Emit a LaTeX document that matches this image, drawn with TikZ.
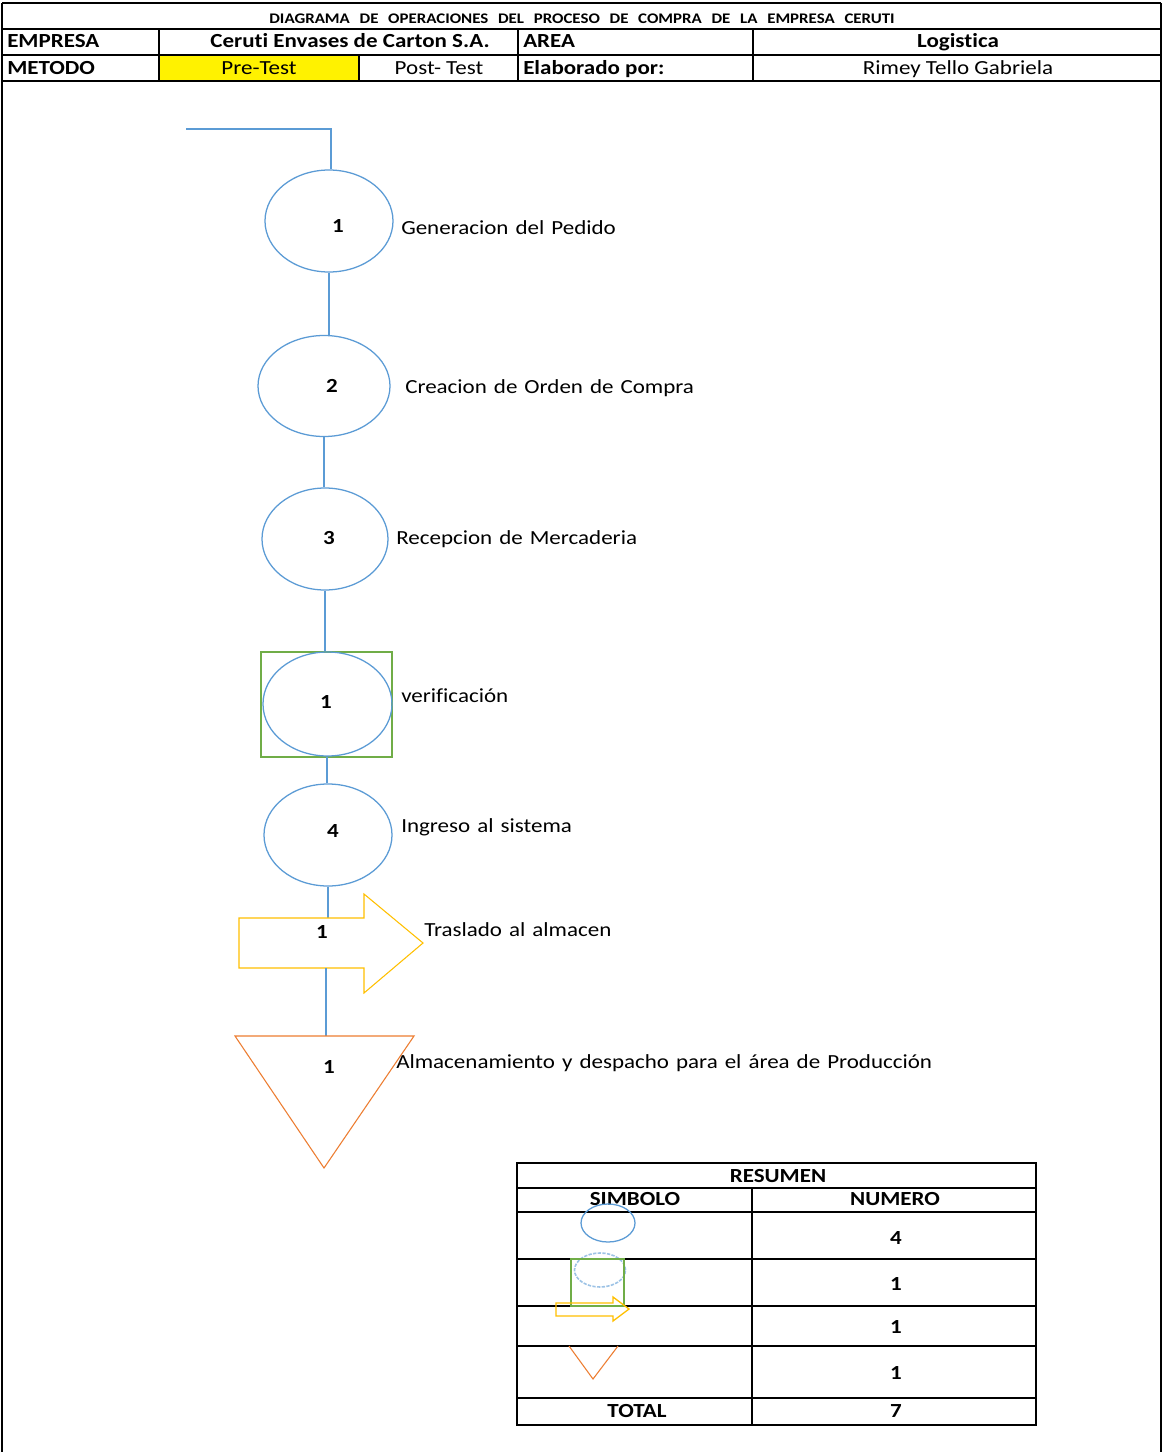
\documentclass[tikz,border=0pt]{standalone}
\usepackage{fontspec}
\setmainfont{Carlito}[FakeStretch=1.15,Ligatures=NoCommon]
\newfontfamily\labelfont{Carlito}[FakeStretch=1.15,WordSpace=1.35,Ligatures=NoCommon]
\usetikzlibrary{shapes.geometric}
\definecolor{opblue}{HTML}{5B9BD5}
\definecolor{oplight}{HTML}{9DC3E6}
\definecolor{opgreen}{HTML}{70AD47}
\definecolor{opyellow}{HTML}{FFC000}
\definecolor{oporange}{HTML}{ED7D31}
\begin{document}
\begin{tikzpicture}[x=0.75pt,y=-0.75pt,
  tbl/.style={draw=black,line width=1.8pt},
  sumline/.style={draw=black,line width=1.5pt},
  oper/.style 2 args={ellipse,draw=opblue,line width=0.95pt,inner sep=0pt,
      minimum width=#1*0.75pt,minimum height=#2*0.75pt},
  link/.style={draw=opblue,line width=1.05pt},
  hb/.style={inner sep=0pt,font=\bfseries\fontsize{15}{18}\selectfont},
  hr/.style={inner sep=0pt,font=\fontsize{15}{18}\selectfont},
  lbl/.style={anchor=base west,inner sep=0pt,font=\labelfont\fontsize{15}{18}\selectfont},
  num/.style={anchor=base,inner sep=0pt,font=\bfseries\fontsize{15}{18}\selectfont},
  sb/.style={anchor=base,inner sep=0pt,font=\bfseries\fontsize{15}{18}\selectfont}]
\useasboundingbox (0,0) rectangle (1163,1452);
\fill[white] (0,0) rectangle (1163,1452);

% ---------- header ----------
\fill[yellow] (159,55) rectangle (359,81);
\draw[tbl] (2,3) -- (1161,3);
\draw[tbl] (2,3) -- (2,1452);
\draw[tbl] (1161,3) -- (1161,1452);
\draw[tbl] (2,29) -- (1161,29);
\draw[tbl] (2,55) -- (1161,55);
\draw[tbl] (2,81) -- (1161,81);
\draw[tbl] (159,29) -- (159,81);
\draw[tbl] (518,29) -- (518,81);
\draw[tbl] (753,29) -- (753,81);
\draw[tbl] (359,55) -- (359,81);

\node[anchor=base,inner sep=0pt,font=\bfseries\fontsize{11}{13}\selectfont] (title) at (582,24)
  {\spaceskip=7.3pt\relax DIAGRAMA DE OPERACIONES DEL PROCESO DE COMPRA DE LA EMPRESA CERUTI};
\node[hb,anchor=base west] (hemp) at (7,48) {EMPRESA};
\node[hb,anchor=base] (hcer) at (350,48) {Ceruti Envases de Carton S.A.};
\node[hb,anchor=base west] (harea) at (523,48) {AREA};
\node[hb,anchor=base] (hlog) at (958,48) {Logistica};
\node[hb,anchor=base west] (hmet) at (7,75) {METODO};
\node[hr,anchor=base] (hpre) at (259,75) {Pre-Test};
\node[hr,anchor=base] (hpost) at (439,75) {Post- Test};
\node[hb,anchor=base west] (helab) at (523,75) {Elaborado por:};
\node[hr,anchor=base] (hrim) at (958,75) {Rimey Tello Gabriela};

% ---------- flow ----------
\node[oper={128}{102}] (e1) at (329,221) {};
\node[oper={132}{101}] (e2) at (324,386) {};
\node[oper={126}{102}] (e3) at (325,539) {};
\node[draw=opgreen,line width=0.8pt,inner sep=0pt,minimum width=131*0.75pt,minimum height=105*0.75pt] (sq) at (326.5,704.5) {};
\node[oper={129}{104}] (e5) at (327.5,704) {};
\node[oper={128}{102}] (e4) at (328,835) {};

\coordinate (start) at (186,129);
\coordinate (corner) at (331,129);
\draw[link] (start) -- (corner) -- (corner |- e1.north);
\draw[link] (e1.south) -- (e1.south |- e2.north);
\draw[link] (e2.south) -- (e2.south |- e3.north);
\draw[link] (e3.south) -- (e3.south |- sq.north);
\draw[link] (327,757) coordinate (sqb) -- (sqb |- e4.north);

% transport arrow
\coordinate (arrtop) at (326,918);
\coordinate (arrbot) at (326,968);
\draw[link] (e4.south) -- (e4.south |- arrtop);
\draw[draw=opyellow,fill=white,line width=0.8pt,line join=miter]
  (239,918) -- (364,918) -- (364,894) -- (423,943) -- (364,993) -- (364,968) -- (239,968) -- cycle;

% storage triangle
\coordinate (tritop) at (326,1036);
\draw[link] (arrbot) -- (tritop);
\draw[draw=oporange,line width=0.8pt,line join=miter] (235,1036) -- (414,1036) -- (324,1168) -- cycle;

% numbers
\node[num] (n1) at (338,232) {1};
\node[num] (n2) at (332,392) {2};
\node[num] (n3) at (329,544) {3};
\node[num] (n5) at (326,708) {1};
\node[num] (n4) at (333,837) {4};
\node[num] (n6) at (322,938) {1};
\node[num] (n7) at (329,1073) {1};

% labels
\node[lbl] (l1) at (401,234) {Generacion del Pedido};
\node[lbl] (l2) at (405,393) {Creacion de Orden de Compra};
\node[lbl] (l3) at (396,544) {Recepcion de Mercaderia};
\node[lbl] (l5) at (401,702) {verificación};
\node[lbl] (l4) at (401,832) {Ingreso al sistema};
\node[lbl] (l6) at (424,936) {Traslado al almacen};
\node[lbl] (l7) at (396,1068) {Almacenamiento y despacho para el área de Producción};

% ---------- summary table ----------
\draw[sumline] (517,1163) rectangle (1036,1425);
\foreach \yy in {1188,1212,1259,1306,1346,1398} \draw[sumline] (517,\yy) -- (1036,\yy);
\draw[sumline] (752,1188) -- (752,1425);

\node[sb] (sres) at (778,1182) {RESUMEN};
\node[sb] (ssim) at (635,1205) {SIMBOLO};
\node[sb] (snum) at (895,1205) {NUMERO};
\node[sb] (sn1) at (896,1244) {4};
\node[sb] (sn2) at (896,1290) {1};
\node[sb] (sn3) at (896,1333) {1};
\node[sb] (sn4) at (896,1379) {1};
\node[sb] (stot) at (637,1417) {TOTAL};
\node[sb] (sn5) at (896,1417) {7};

\node[oper={54}{38}] (se1) at (608,1223) {};
\node[ellipse,draw=oplight,line width=1.2pt,dash pattern=on 2.5pt off 1pt,inner sep=0pt,
  minimum width=51*0.75pt,minimum height=34*0.75pt] (se2) at (600,1270) {};
\node[draw=opgreen,line width=1.5pt,inner sep=0pt,minimum width=53*0.75pt,minimum height=47*0.75pt] (ssq) at (597.5,1282.5) {};
\draw[draw=opyellow,line width=1pt,line join=miter]
  (556,1303) -- (613,1303) -- (613,1297) -- (629,1309) -- (613,1321) -- (613,1316) -- (556,1316) -- cycle;
\draw[draw=oporange,line width=0.8pt] (569,1346) -- (593,1379) -- (618,1346);
\end{tikzpicture}
\end{document}
